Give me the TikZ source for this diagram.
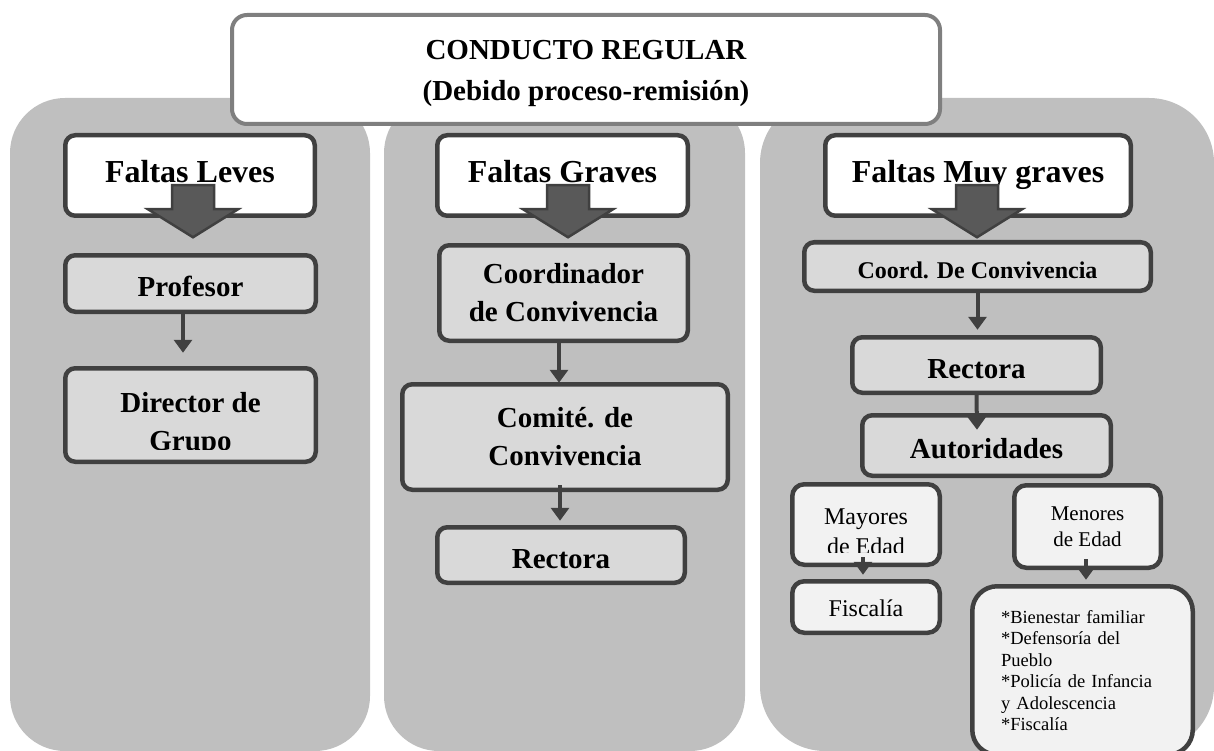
\documentclass[tikz,border=0pt]{standalone}
\usepackage{fontspec}
\setmainfont{Liberation Serif}
\usetikzlibrary{arrows.meta,positioning}
\definecolor{fondo}{HTML}{BFBFBF}
\definecolor{relleno}{HTML}{D9D9D9}
\definecolor{claro}{HTML}{F2F2F2}
\definecolor{borde}{HTML}{404040}
\definecolor{bordetit}{HTML}{7F7F7F}
\definecolor{bloquegris}{HTML}{595959}
\tikzset{
  titulo/.style={rectangle, rounded corners=15pt, draw=bordetit, line width=4pt, fill=white, minimum width=708pt, minimum height=109pt, align=center, font=\bfseries\fontsize{29}{41}\selectfont},
  faltabox/.style={rectangle, rounded corners=10pt, draw=borde, line width=4.5pt, fill=white, minimum height=80.5pt, text height=22pt, text depth=7pt, font=\bfseries\fontsize{32}{38}\selectfont},
  pasobox/.style={rectangle, rounded corners=10pt, draw=borde, line width=4.5pt, fill=relleno, align=center, font=\bfseries\fontsize{29}{38}\selectfont},
  una/.style={text height=26pt, text depth=0pt},
  edadbox/.style={rectangle, rounded corners=12pt, draw=borde, line width=4.5pt, fill=claro, align=center, minimum width=147.5pt, font=\fontsize{24}{30}\selectfont},
  flecha/.style={draw=borde, line width=4pt, -{Triangle[width=18pt,length=13pt]}},
  bloque/.style={fill=bloquegris, draw=borde, line width=2.5pt, line join=miter}
}
\begin{document}
\begin{tikzpicture}[x=1pt,y=-1pt]
\clip (0,0) rectangle (1214,751);
% columnas
\fill[fondo, rounded corners=55pt] (10,98) rectangle (370,751);
\fill[fondo, rounded corners=55pt] (384,98) rectangle (745,751);
\fill[fondo, rounded corners=65pt] (760,98) rectangle (1214,751);
% titulo
\node[titulo] (titulo) at (586,69.5) {\rule{0pt}{28pt}CONDUCTO REGULAR\\(Debido proceso-remisión)};
% faltas
\node[faltabox, minimum width=249.5pt] (leves) at (190,175.5) {Faltas Leves};
\node[faltabox, minimum width=250.5pt] (graves) at (562.5,175.5) {Faltas Graves};
\node[faltabox, minimum width=305.5pt] (muyg) at (978,175.5) {Faltas Muy graves};
% flechas grandes
\foreach \n/\dx in {leves/-18, graves/-15.5, muyg/-22}
  \draw[bloque] ([xshift=\dx pt, yshift=32.75pt]\n.south) -- ++(0,24) -- ++(-24,0) -- ++(45,28) -- ++(45,-28) -- ++(-24,0) -- ++(0,-24) -- cycle;
% faltas leves
\node[pasobox, una, minimum width=250.5pt, minimum height=56.5pt] (profesor) at (190.5,283.5) {Profesor};
\node[pasobox, minimum width=250.5pt, minimum height=93.5pt] (director) at (190.5,415) {};
\begin{scope}
\clip (director.north west) rectangle ([yshift=15pt]director.south east);
\node[pasobox, draw=none, fill=none] (directortxt) at ([yshift=-9.5pt]director.center) {Director de\\Grupo};
\end{scope}
% faltas graves
\node[pasobox, minimum width=248.5pt, minimum height=95.5pt] (coordinador) at (563.5,293) {Coordinador\\de Convivencia};
\node[pasobox, minimum width=325.5pt, minimum height=105.5pt] (comite) at (565,437) {Comité. de\\Convivencia};
\node[pasobox, una, minimum width=247.5pt, minimum height=55.5pt] (rectoraG) at (561,555) {Rectora};
% faltas muy graves
\node[pasobox, text height=23pt, text depth=0pt, minimum width=346.5pt, minimum height=48.5pt, font=\bfseries\fontsize{24}{30}\selectfont] (coordMG) at (977.5,266.5) {Coord. De Convivencia};
\node[pasobox, una, minimum width=248.5pt, minimum height=55.5pt] (rectoraMG) at (976.5,365) {Rectora};
\node[pasobox, una, minimum width=248.5pt, minimum height=60.5pt] (autoridades) at (986.5,445.5) {Autoridades};
\node[edadbox, minimum height=80.5pt] (mayores) at (866,524.5) {};
\begin{scope}
\clip (mayores.north west) rectangle ([yshift=15pt]mayores.south east);
\node[edadbox, draw=none, fill=none] (mayorestxt) at ([yshift=-7pt]mayores.center) {Mayores\\de Edad};
\end{scope}
\node[edadbox, text height=18pt, text depth=0pt, minimum height=51.5pt] (fiscalia) at (866,607) {Fiscalía};
\node[edadbox, minimum width=146.5pt, minimum height=82.5pt, font=\fontsize{21}{26}\selectfont] (menores) at (1087.5,526.5) {Menores\\de Edad};
\node[edadbox, rounded corners=25pt, align=left, text width=163pt, inner xsep=28.75pt, minimum width=220.5pt, minimum height=168.5pt, font=\fontsize{18.5}{21.5}\selectfont] (lista) at (1082.5,670.5) {*Bienestar familiar\\{}*Defensoría del\\Pueblo\\{}*Policía de Infancia\\y Adolescencia\\{}*Fiscalía};
% flechas
\draw[flecha] ([xshift=-7.5pt]profesor.south) -- ([xshift=-7.5pt,yshift=13.25pt]director.north);
\draw[flecha] ([xshift=-4.5pt]coordinador.south) -- ([xshift=-6pt,yshift=-0.75pt]comite.north);
\draw[flecha] ([xshift=-5pt,yshift=6.75pt]comite.south) -- ([xshift=-1pt,yshift=4.25pt]rectoraG.north);
\draw[flecha] (coordMG.south) -- ([xshift=1pt,yshift=5.25pt]rectoraMG.north);
\draw[flecha] (rectoraMG.south) -- ([xshift=-9.5pt,yshift=-16.75pt]autoridades.north);
\draw[flecha] ([xshift=-3pt,yshift=9.75pt]mayores.south) -- ([xshift=-3pt,yshift=4.25pt]fiscalia.north);
\draw[flecha] ([xshift=-1.5pt,yshift=10.75pt]menores.south) -- ([xshift=3.5pt,yshift=4.25pt]lista.north);
\end{tikzpicture}
\end{document}
